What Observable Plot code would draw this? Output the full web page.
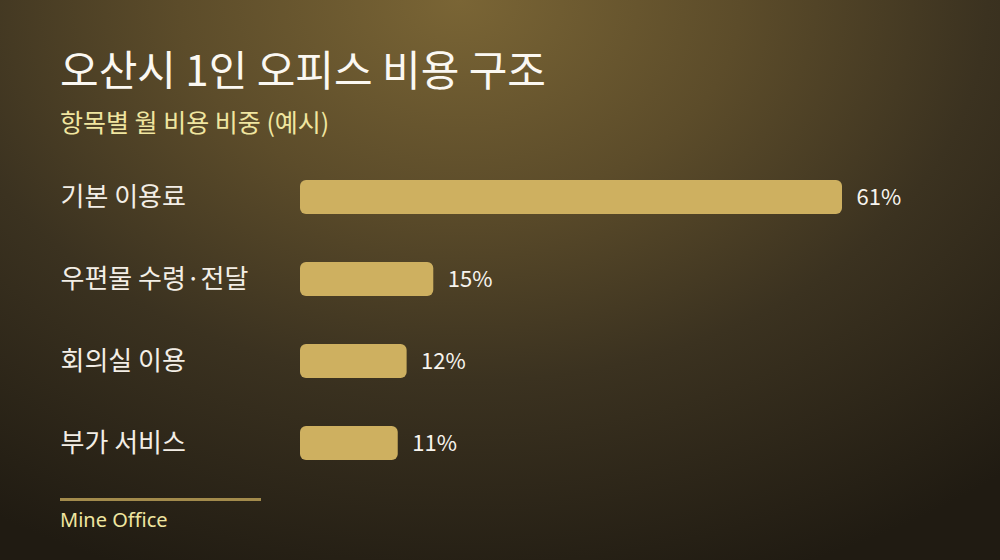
<!DOCTYPE html>
<html>
<head>
<meta charset="utf-8">
<script src="https://cdn.jsdelivr.net/npm/d3@7"></script>
<script src="https://cdn.jsdelivr.net/npm/@observablehq/plot@0.6"></script>
<style>
  html, body { margin: 0; padding: 0; }
  body { width: 1000px; height: 560px; overflow: hidden; }
  #card {
    position: relative; width: 1000px; height: 560px;
    background: radial-gradient(ellipse 85% 110% at 46% 0%, #7a6535 0%, #5c4c2a 33%, #3b3220 62%, #201b12 100%);
    font-family: "Noto Sans CJK KR", "Noto Sans", sans-serif;
  }
  #title { position: absolute; left: 60px; top: 43px; font-size: 42px; color: #fbf8f2; font-weight: 400; line-height: 1.2; white-space: nowrap; }
  #subtitle { position: absolute; left: 60px; top: 106px; font-size: 25px; color: #f0e6a0; line-height: 1.2; white-space: nowrap; }
  #chart { position: absolute; left: 0; top: 156px; }
  #rule { position: absolute; left: 60px; top: 498px; width: 201px; height: 3px; background: #a38b4c; }
  #caption { position: absolute; left: 60px; top: 508px; font-size: 20px; color: #f0e6a0; line-height: 1.2; font-family: "Noto Sans", sans-serif; }
</style>
</head>
<body>
<div id="card">
  <div id="title">오산시 1인 오피스 비용 구조</div>
  <div id="subtitle">항목별 월 비용 비중 (예시)</div>
  <div id="chart"></div>
  <div id="rule"></div>
  <div id="caption">Mine Office</div>
</div>
<script>
const categories = ["기본 이용료", "우편물 수령·전달", "회의실 이용", "부가 서비스"];
const shares = [61, 15, 12, 11];

const rows = categories.map((c, i) => ({category: c, share: shares[i]}));

const chart = Plot.plot({
  width: 1000,
  height: 328,
  marginLeft: 300,
  marginRight: 158,
  marginTop: 0,
  marginBottom: 0,
  style: {background: "transparent", fontFamily: "'Noto Sans CJK KR', 'Noto Sans', sans-serif", overflow: "visible"},
  x: {domain: [0, 61], axis: null},
  y: {domain: categories, axis: null, paddingInner: 0.585, paddingOuter: 0.2925},
  marks: [
    Plot.barX(rows, {x: "share", y: "category", fill: "#ceb060", rx: 6}),
    Plot.text(rows, {
      y: "category", text: "category", frameAnchor: "left", textAnchor: "start",
      dx: -240, fill: "#f3eee6", fontSize: 26
    }),
    Plot.text(rows, {
      x: "share", y: "category", text: d => d.share + "%", textAnchor: "start",
      dx: 14, fill: "#f7f4ee", fontSize: 22
    })
  ]
});
document.getElementById("chart").appendChild(chart);
</script>
</body>
</html>
